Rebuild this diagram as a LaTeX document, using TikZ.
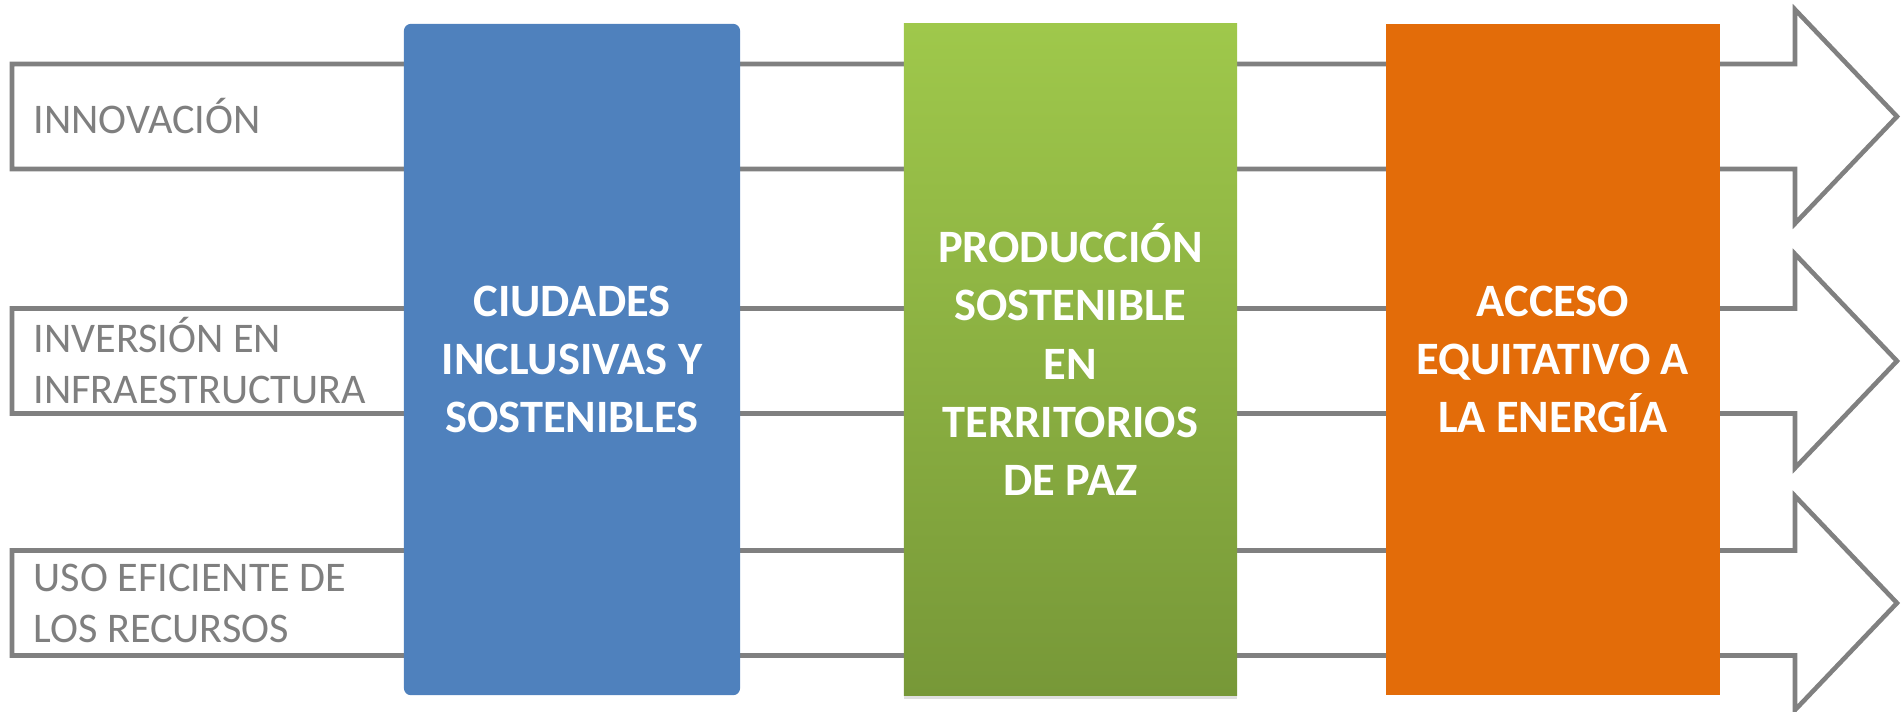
\documentclass[tikz,border=0pt]{standalone}
\usepackage{fontspec}
\setmainfont{Carlito}
\usetikzlibrary{shadows}
\definecolor{lineagris}{HTML}{808080}
\definecolor{textogris}{HTML}{7F7F7F}
\definecolor{azulcaja}{HTML}{4F81BD}
\definecolor{verdearriba}{HTML}{9FC84B}
\definecolor{verdeabajo}{HTML}{779838}
\definecolor{naranjacaja}{HTML}{E36C09}

\begin{document}
\begin{tikzpicture}[x=0.01cm, y=-0.01cm,
  flecha/.style={draw=lineagris, line width=1.3pt, fill=white},
  etiqueta/.style={anchor=west, align=left, text=textogris, font=\fontsize{12}{14.5}\selectfont, inner sep=0pt},
  caja/.style={rectangle, minimum width=3.36cm, minimum height=6.71cm, align=center, text=white, font=\fontsize{13.2}{16.5}\selectfont\bfseries, inner sep=0pt}
]
  \useasboundingbox (0,0) rectangle (1902,711);
  \foreach \c/\nombre/\texto in {116.5/innovacion/{INNOVACIÓN}, 361/inversion/{INVERSIÓN EN\\INFRAESTRUCTURA}, 603/uso/{USO EFICIENTE DE\\LOS RECURSOS}} {
    \draw[flecha] (12,\c-52.5) -- (1795,\c-52.5) -- (1795,\c-107) -- (1897,\c) -- (1795,\c+107) -- (1795,\c+52.5) -- (12,\c+52.5) -- cycle;
    \node[etiqueta] (\nombre) at (33,\c) {\texto};
  }

  \node[caja, fill=azulcaja, rounded corners=2pt] (ciudades) at (572,359.5) {CIUDADES\\INCLUSIVAS Y\\SOSTENIBLES};
  \node[caja, top color=verdearriba, bottom color=verdeabajo, minimum width=3.33cm, drop shadow={shadow xshift=0pt, shadow yshift=-1pt, opacity=0.25}] (produccion) at (1070.5,359.5) {PRODUCCIÓN\\SOSTENIBLE\\EN\\TERRITORIOS\\DE PAZ};
  \node[caja, fill=naranjacaja, minimum width=3.34cm] (acceso) at (1553,359.5) {ACCESO\\EQUITATIVO A\\LA ENERGÍA};
\end{tikzpicture}
\end{document}
